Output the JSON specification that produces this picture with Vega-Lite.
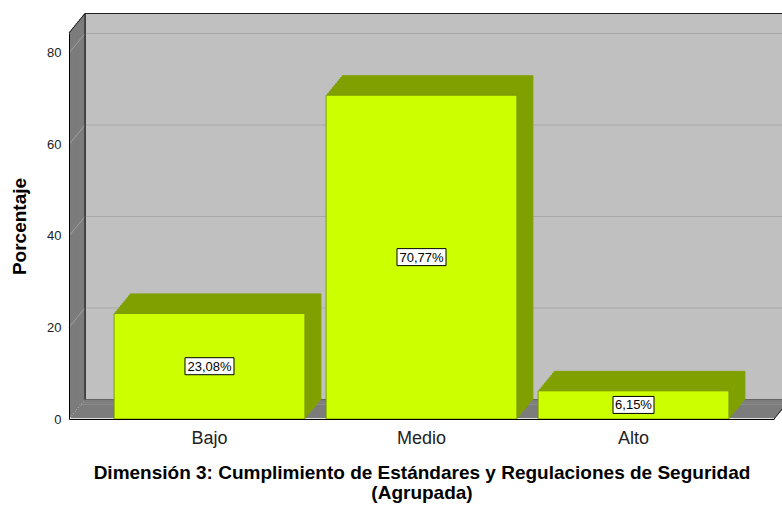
{
  "$schema": "https://vega.github.io/schema/vega-lite/v6.json",
  "width": 705,
  "height": 386,
  "autosize": {"type": "none"},
  "padding": {"left": 69, "top": 33, "right": 8, "bottom": 87},
  "background": "white",
  "config": {"view": {"stroke": null}, "font": "Liberation Sans"},
  "data": {"values": [
    {"cat": "Bajo", "pct": 23.08},
    {"cat": "Medio", "pct": 70.77},
    {"cat": "Alto", "pct": 6.15}
  ]},
  "transform": [
    {"calculate": "datum.pct / 2", "as": "mid"},
    {"calculate": "replace(format(datum.pct, '.2f'), '.', ',') + '%'", "as": "label"}
  ],
  "encoding": {
    "x": {"field": "cat", "type": "nominal", "sort": ["Bajo", "Medio", "Alto"],
      "scale": {"type": "band", "paddingInner": 0.1, "paddingOuter": 0.2127},
      "axis": {"title": ["Dimensión 3: Cumplimiento de Estándares y Regulaciones de Seguridad", "(Agrupada)"],
        "titleFontSize": 19, "titleFontWeight": "bold", "titleColor": "#000", "titlePadding": 16, "titleLineHeight": 20,
        "labelFontSize": 18, "labelColor": "#222", "labelPadding": 10, "labelAngle": 0,
        "ticks": false, "domainColor": "#000", "domainWidth": 1, "zindex": 2}},
    "y": {"field": "pct", "type": "quantitative",
      "scale": {"domain": [0, 84.37], "nice": false, "zero": true},
      "axis": {"title": "Porcentaje", "titleFontSize": 19, "titleFontWeight": "bold", "titleColor": "#000", "titlePadding": 17,
        "values": [0, 20, 40, 60, 80], "labelFontSize": 13, "labelColor": "#222", "labelPadding": 8,
        "ticks": false, "grid": false, "domainColor": "#000", "domainWidth": 1, "zindex": 2}}
  },
  "layer": [
    {"data": {"values": [{}]},
     "mark": {"type": "rect", "fill": "#c0c0c0", "stroke": "#222", "strokeWidth": 1, "xOffset": 16, "x2Offset": 16, "yOffset": -19.5, "y2Offset": -19.5},
     "encoding": {"x": {"value": 0}, "x2": {"value": "width"}, "y": {"value": 0}, "y2": {"value": "height"}}},
    {"data": {"values": [{"g": 20}, {"g": 40}, {"g": 60}, {"g": 80}]},
     "mark": {"type": "rule", "color": "#a8a8a8", "strokeWidth": 1, "xOffset": 16, "x2Offset": 16, "yOffset": -19.5},
     "encoding": {"x": {"value": 0}, "x2": {"value": "width"}, "y": {"field": "g", "type": "quantitative"}}},

    {"data": {"values": [{}]}, "mark": {"type": "rule", "color": "#7c7c7c", "strokeWidth": 2.4, "xOffset": 1.6, "yOffset": -1.95, "y2Offset": -1.95}, "encoding": {"x": {"value": 0}, "y": {"value": 0}, "y2": {"value": "height"}}},
    {"data": {"values": [{}]}, "mark": {"type": "rule", "color": "#7c7c7c", "strokeWidth": 2.4, "xOffset": 3.2, "yOffset": -3.9, "y2Offset": -3.9}, "encoding": {"x": {"value": 0}, "y": {"value": 0}, "y2": {"value": "height"}}},
    {"data": {"values": [{}]}, "mark": {"type": "rule", "color": "#7c7c7c", "strokeWidth": 2.4, "xOffset": 4.8, "yOffset": -5.85, "y2Offset": -5.85}, "encoding": {"x": {"value": 0}, "y": {"value": 0}, "y2": {"value": "height"}}},
    {"data": {"values": [{}]}, "mark": {"type": "rule", "color": "#7c7c7c", "strokeWidth": 2.4, "xOffset": 6.4, "yOffset": -7.8, "y2Offset": -7.8}, "encoding": {"x": {"value": 0}, "y": {"value": 0}, "y2": {"value": "height"}}},
    {"data": {"values": [{}]}, "mark": {"type": "rule", "color": "#7c7c7c", "strokeWidth": 2.4, "xOffset": 8, "yOffset": -9.75, "y2Offset": -9.75}, "encoding": {"x": {"value": 0}, "y": {"value": 0}, "y2": {"value": "height"}}},
    {"data": {"values": [{}]}, "mark": {"type": "rule", "color": "#7c7c7c", "strokeWidth": 2.4, "xOffset": 9.6, "yOffset": -11.7, "y2Offset": -11.7}, "encoding": {"x": {"value": 0}, "y": {"value": 0}, "y2": {"value": "height"}}},
    {"data": {"values": [{}]}, "mark": {"type": "rule", "color": "#7c7c7c", "strokeWidth": 2.4, "xOffset": 11.2, "yOffset": -13.65, "y2Offset": -13.65}, "encoding": {"x": {"value": 0}, "y": {"value": 0}, "y2": {"value": "height"}}},
    {"data": {"values": [{}]}, "mark": {"type": "rule", "color": "#7c7c7c", "strokeWidth": 2.4, "xOffset": 12.8, "yOffset": -15.6, "y2Offset": -15.6}, "encoding": {"x": {"value": 0}, "y": {"value": 0}, "y2": {"value": "height"}}},
    {"data": {"values": [{}]}, "mark": {"type": "rule", "color": "#7c7c7c", "strokeWidth": 2.4, "xOffset": 14.4, "yOffset": -17.55, "y2Offset": -17.55}, "encoding": {"x": {"value": 0}, "y": {"value": 0}, "y2": {"value": "height"}}},
    {"data": {"values": [{}]}, "mark": {"type": "rule", "color": "#7c7c7c", "strokeWidth": 2.4, "xOffset": 15.2, "yOffset": -18.5, "y2Offset": -18.5}, "encoding": {"x": {"value": 0}, "y": {"value": 0}, "y2": {"value": "height"}}},

    {"data": {"values": [{}]}, "mark": {"type": "rule", "color": "#7c7c7c", "strokeWidth": 2.4, "xOffset": 1.6, "x2Offset": 1.6, "yOffset": -1.95}, "encoding": {"x": {"value": 0}, "x2": {"value": "width"}, "y": {"value": "height"}}},
    {"data": {"values": [{}]}, "mark": {"type": "rule", "color": "#7c7c7c", "strokeWidth": 2.4, "xOffset": 3.2, "x2Offset": 3.2, "yOffset": -3.9}, "encoding": {"x": {"value": 0}, "x2": {"value": "width"}, "y": {"value": "height"}}},
    {"data": {"values": [{}]}, "mark": {"type": "rule", "color": "#7c7c7c", "strokeWidth": 2.4, "xOffset": 4.8, "x2Offset": 4.8, "yOffset": -5.85}, "encoding": {"x": {"value": 0}, "x2": {"value": "width"}, "y": {"value": "height"}}},
    {"data": {"values": [{}]}, "mark": {"type": "rule", "color": "#7c7c7c", "strokeWidth": 2.4, "xOffset": 6.4, "x2Offset": 6.4, "yOffset": -7.8}, "encoding": {"x": {"value": 0}, "x2": {"value": "width"}, "y": {"value": "height"}}},
    {"data": {"values": [{}]}, "mark": {"type": "rule", "color": "#7c7c7c", "strokeWidth": 2.4, "xOffset": 8, "x2Offset": 8, "yOffset": -9.75}, "encoding": {"x": {"value": 0}, "x2": {"value": "width"}, "y": {"value": "height"}}},
    {"data": {"values": [{}]}, "mark": {"type": "rule", "color": "#7c7c7c", "strokeWidth": 2.4, "xOffset": 9.6, "x2Offset": 9.6, "yOffset": -11.7}, "encoding": {"x": {"value": 0}, "x2": {"value": "width"}, "y": {"value": "height"}}},
    {"data": {"values": [{}]}, "mark": {"type": "rule", "color": "#7c7c7c", "strokeWidth": 2.4, "xOffset": 11.2, "x2Offset": 11.2, "yOffset": -13.65}, "encoding": {"x": {"value": 0}, "x2": {"value": "width"}, "y": {"value": "height"}}},
    {"data": {"values": [{}]}, "mark": {"type": "rule", "color": "#7c7c7c", "strokeWidth": 2.4, "xOffset": 12.8, "x2Offset": 12.8, "yOffset": -15.6}, "encoding": {"x": {"value": 0}, "x2": {"value": "width"}, "y": {"value": "height"}}},
    {"data": {"values": [{}]}, "mark": {"type": "rule", "color": "#7c7c7c", "strokeWidth": 2.4, "xOffset": 14.4, "x2Offset": 14.4, "yOffset": -17.55}, "encoding": {"x": {"value": 0}, "x2": {"value": "width"}, "y": {"value": "height"}}},
    {"data": {"values": [{}]}, "mark": {"type": "rule", "color": "#7c7c7c", "strokeWidth": 2.4, "xOffset": 15.2, "x2Offset": 15.2, "yOffset": -18.5}, "encoding": {"x": {"value": 0}, "x2": {"value": "width"}, "y": {"value": "height"}}},

    {"data": {"values": [{"g": 20}, {"g": 40}, {"g": 60}, {"g": 80}]},
     "mark": {"type": "rule", "color": "#a0a0a0", "strokeWidth": 1, "x2Offset": 16, "y2Offset": -19.5},
     "encoding": {"x": {"value": 0}, "x2": {"value": 0}, "y": {"field": "g", "type": "quantitative"}, "y2": {"field": "g"}}},
    {"data": {"values": [{}]}, "mark": {"type": "rule", "color": "#111", "strokeWidth": 1, "x2Offset": 16, "y2Offset": -19.5}, "encoding": {"x": {"value": 0}, "x2": {"value": 0}, "y": {"value": 0}, "y2": {"value": 0}}},
    {"data": {"values": [{}]}, "mark": {"type": "rule", "color": "#111", "strokeWidth": 1, "xOffset": 16, "yOffset": -19.5, "y2Offset": -19.5}, "encoding": {"x": {"value": 0}, "y": {"value": 0}, "y2": {"value": "height"}}},
    {"data": {"values": [{}]}, "mark": {"type": "rule", "color": "#111", "strokeWidth": 1, "x2Offset": 16, "y2Offset": -19.5}, "encoding": {"x": {"value": "width"}, "x2": {"value": "width"}, "y": {"value": "height"}, "y2": {"value": "height"}}},

    {"mark": {"type": "bar", "fill": "#80a000", "stroke": "#80a000", "strokeWidth": 1, "xOffset": 16, "yOffset": -19.5, "y2Offset": -19.5}},
    {"mark": {"type": "bar", "fill": "#80a000", "stroke": "#80a000", "strokeWidth": 1, "xOffset": 14.4, "yOffset": -17.55, "y2Offset": -17.55}},
    {"mark": {"type": "bar", "fill": "#80a000", "stroke": "#80a000", "strokeWidth": 1, "xOffset": 12.8, "yOffset": -15.6, "y2Offset": -15.6}},
    {"mark": {"type": "bar", "fill": "#80a000", "stroke": "#80a000", "strokeWidth": 1, "xOffset": 11.2, "yOffset": -13.65, "y2Offset": -13.65}},
    {"mark": {"type": "bar", "fill": "#80a000", "stroke": "#80a000", "strokeWidth": 1, "xOffset": 9.6, "yOffset": -11.7, "y2Offset": -11.7}},
    {"mark": {"type": "bar", "fill": "#80a000", "stroke": "#80a000", "strokeWidth": 1, "xOffset": 8, "yOffset": -9.75, "y2Offset": -9.75}},
    {"mark": {"type": "bar", "fill": "#80a000", "stroke": "#80a000", "strokeWidth": 1, "xOffset": 6.4, "yOffset": -7.8, "y2Offset": -7.8}},
    {"mark": {"type": "bar", "fill": "#80a000", "stroke": "#80a000", "strokeWidth": 1, "xOffset": 4.8, "yOffset": -5.85, "y2Offset": -5.85}},
    {"mark": {"type": "bar", "fill": "#80a000", "stroke": "#80a000", "strokeWidth": 1, "xOffset": 3.2, "yOffset": -3.9, "y2Offset": -3.9}},
    {"mark": {"type": "bar", "fill": "#80a000", "stroke": "#80a000", "strokeWidth": 1, "xOffset": 1.6, "yOffset": -1.95, "y2Offset": -1.95}},

    {"mark": {"type": "bar", "fill": "#ccff00", "stroke": "#6f8c00", "strokeWidth": 0.8}},

    {"mark": {"type": "point", "filled": true, "fill": "white", "stroke": "#000", "strokeWidth": 1, "opacity": 1, "size": 4},
     "encoding": {"y": {"field": "mid", "type": "quantitative"},
       "shape": {"condition": {"test": "length(datum.label) > 5", "value": "M-24.5,-8.5H24.5V8.5H-24.5Z"}, "value": "M-20.5,-8.5H20.5V8.5H-20.5Z"}}},
    {"mark": {"type": "text", "fontSize": 13, "color": "#000", "baseline": "middle", "align": "center", "dy": 0.5},
     "encoding": {"y": {"field": "mid", "type": "quantitative"}, "text": {"field": "label"}}}
  ]
}
